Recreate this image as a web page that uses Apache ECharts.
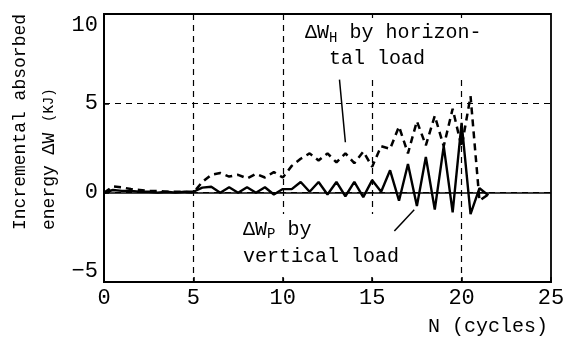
<!DOCTYPE html>
<html><head><meta charset="utf-8">
<script src="https://cdn.jsdelivr.net/npm/echarts@6/dist/echarts.min.js"></script>
<style>html,body{margin:0;padding:0;background:#fff}#c{width:572px;height:339px}</style>
</head><body><div id="c"></div>
<script>
// N (cycles), half-cycle steps
const cycles = [0,0.5,1,1.5,2,2.5,3,3.5,4,4.5,5,5.5,6,6.5,7,7.5,8,8.5,9,9.5,10,10.5,11,11.5,12,12.5,13,13.5,14,14.5,15,15.5,16,16.5,17,17.5,18,18.5,19,19.5,20,20.5,21,21.5];
// ΔW_H by horizontal load (dashed)
const dWH = [0.0,0.35,0.3,0.2,0.15,0.1,0.1,0.05,0.05,0.05,0.0,0.6,1.0,1.1,0.9,1.0,0.8,1.05,0.85,1.15,0.85,1.5,1.9,2.2,1.8,2.2,1.7,2.2,1.65,2.3,1.45,2.6,2.45,3.7,2.2,4.0,2.65,4.3,2.6,4.7,2.55,5.4,-0.45,-0.1];
// ΔW_P by vertical load (solid)
const dWP = [0.0,0.15,0.1,0.1,0.05,0.05,0.0,0.05,0.0,0.05,0.05,0.28,0.33,0.0,0.3,0.0,0.3,0.0,0.3,-0.1,0.2,0.2,0.6,0.05,0.6,-0.1,0.6,-0.2,0.6,-0.25,0.7,0.05,1.25,-0.45,1.6,-0.75,2.0,-0.95,2.6,-1.1,3.9,-1.2,0.25,-0.15];
const xTicks = [0,5,10,15,20,25];
const yTicks = [-5,0,5,10];
// leader lines of the annotations (data units)
const leaderH = [[13.17,6.33],[13.5,2.82]];
const leaderP = [[16.24,-2.15],[17.35,-0.96]];

const FONT = '"Liberation Mono", monospace';
const chart = echarts.init(document.getElementById('c'), null, {renderer:'canvas'});
const pairs = ys => cycles.map((x,i)=>[x, ys[i]]);
const black = '#000';
const xMin = xTicks[0], xMax = xTicks[xTicks.length-1];
const yMin = yTicks[0], yMax = yTicks[yTicks.length-1];
const option = {
  animation:false,
  backgroundColor:'#fff',
  grid:{left:104,right:21,top:14,bottom:57,show:true,borderColor:black,borderWidth:1.8,backgroundColor:'transparent'},
  xAxis:{type:'value',min:xMin,max:xMax,interval:5,
    axisLine:{onZero:false,lineStyle:{color:black,width:2}},
    axisTick:{inside:true,length:5,lineStyle:{color:black,width:1.5}},
    axisLabel:{color:black,fontFamily:FONT,fontSize:22,margin:5},
    splitLine:{show:true,showMinLine:false,showMaxLine:false,lineStyle:{color:black,type:[6,5],width:1.2}}},
  yAxis:{type:'value',min:yMin,max:yMax,interval:5,
    axisLine:{onZero:false,lineStyle:{color:black,width:2}},
    axisTick:{inside:true,length:5,lineStyle:{color:black,width:1.5}},
    axisLabel:{color:black,fontFamily:FONT,fontSize:22,margin:6,
      formatter:v=>String(v).replace('-','\u2212'),
      verticalAlignMaxLabel:'top',verticalAlignMinLabel:'bottom'},
    splitLine:{show:true,showMinLine:false,showMaxLine:false,lineStyle:{color:black,type:[6,5],width:1.2}}},
  series:[
    {type:'line',data:pairs(dWH),symbol:'none',lineStyle:{color:black,width:2.5,type:[7,5]},z:3,
      markLine:{silent:true,symbol:'none',label:{show:false},lineStyle:{color:black,width:1.5,type:'solid'},
        data:[[{coord:leaderH[0]},{coord:leaderH[1]}],[{coord:leaderP[0]},{coord:leaderP[1]}],
              [{coord:[xMin,0]},{coord:[xMax,0]}]]}},
    {type:'line',data:pairs(dWP),symbol:'none',lineStyle:{color:black,width:2.4},z:3}
  ],
  graphic:[
    {type:'text',z:1,x:303,y:18,style:{
      text:'{a|ΔW}{s|H}{a| by horizon-}\n{a|  tal load}',
      backgroundColor:'#fff',padding:[2,4,6,2],
      rich:{a:{fontFamily:FONT,fontSize:20,fill:black,lineHeight:26},
            s:{fontFamily:FONT,fontSize:14,fill:black,lineHeight:26,padding:[10,0,0,0]}}}},
    {type:'text',z:1,x:241,y:214,style:{
      text:'{a|ΔW}{s|P}{a| by}\n{a|vertical load}',
      backgroundColor:'#fff',padding:[2,4,4,2],
      rich:{a:{fontFamily:FONT,fontSize:20,fill:black,lineHeight:27},
            s:{fontFamily:FONT,fontSize:14,fill:black,lineHeight:27,padding:[10,0,0,0]}}}},
    {type:'text',x:548,y:327,style:{text:'N (cycles)',fontFamily:FONT,fontSize:20,fill:black,align:'right',verticalAlign:'middle'}},
    {type:'text',x:20,y:230,rotation:Math.PI/2,style:{text:'Incremental absorbed',fontFamily:FONT,fontSize:18,fill:black,align:'left',verticalAlign:'middle'}},
    {type:'text',x:49,y:230,rotation:Math.PI/2,style:{text:'{a|energy ΔW }{b|(KJ)}',align:'left',verticalAlign:'middle',
      rich:{a:{fontFamily:FONT,fontSize:18,fill:black},b:{fontFamily:FONT,fontSize:14,fill:black}}}}
  ]
};
chart.setOption(option);
</script></body></html>
